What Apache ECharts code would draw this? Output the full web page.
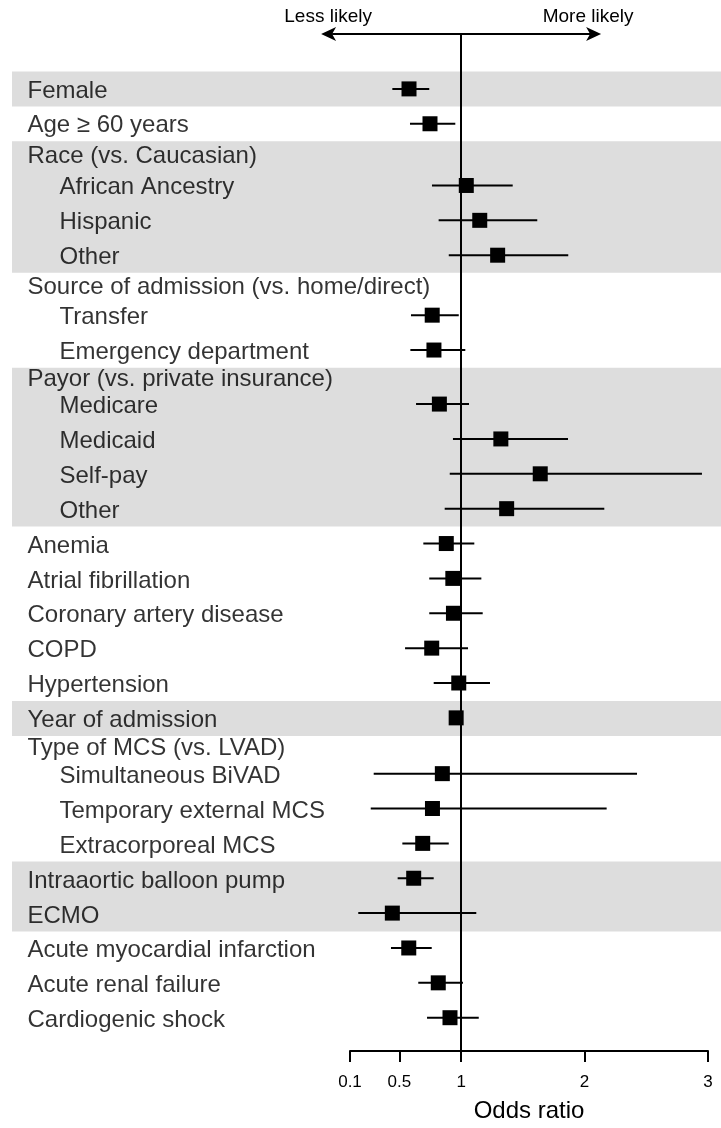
<!DOCTYPE html>
<html><head><meta charset="utf-8">
<script src="https://cdn.jsdelivr.net/npm/echarts@6/dist/echarts.min.js"></script>
<style>html,body{margin:0;padding:0;background:#fff}#c{width:721px;height:1128px}</style>
</head><body><div id="c"></div>
<script>
// ---------- data ----------
const rowLabels = ['Female','Age \u2265 60 years','Race (vs. Caucasian)','African Ancestry','Hispanic','Other',
  'Source of admission (vs. home/direct)','Transfer','Emergency department','Payor (vs. private insurance)',
  'Medicare','Medicaid','Self-pay','Other','Anemia','Atrial fibrillation','Coronary artery disease','COPD',
  'Hypertension','Year of admission','Type of MCS (vs. LVAD)','Simultaneous BiVAD','Temporary external MCS',
  'Extracorporeal MCS','Intraaortic balloon pump','ECMO','Acute myocardial infarction','Acute renal failure',
  'Cardiogenic shock'];
const rowIndent = [0,0,0,1,1,1,0,1,1,0,1,1,1,1,0,0,0,0,0,0,0,1,1,1,0,0,0,0,0];
const rowShaded = [1,0,1,1,1,1,0,0,0,1,1,1,1,1,0,0,0,0,0,1,0,0,0,0,1,1,0,0,0];
const oddsRatio = [0.578,0.748,null,1.042,1.151,1.296,null,0.766,0.780,null,0.824,1.322,1.641,1.369,
  0.880,0.933,0.938,0.762,0.981,0.960,null,0.848,0.768,0.689,0.616,0.443,0.576,0.815,0.910];
const ciLower = [0.443,0.586,null,0.764,0.818,0.900,null,0.594,0.589,null,0.635,0.934,0.908,0.867,
  0.694,0.742,0.742,0.546,0.778,0.950,null,0.292,0.268,0.524,0.486,0.167,0.432,0.653,0.724];
const ciUpper = [0.742,0.953,null,1.418,1.617,1.868,null,0.981,1.034,null,1.064,1.866,2.951,2.160,
  1.107,1.164,1.175,1.056,1.234,0.970,null,2.425,2.179,0.900,0.778,1.123,0.762,1.015,1.143];
const xTicks = [0.1, 0.5, 1, 2, 3];
const xTitle = 'Odds ratio';
const arrowLabels = ['Less likely', 'More likely'];

// ---------- layout ----------
const FONT = "'Liberation Sans', Arial, Helvetica, sans-serif";
const headerUnits = [0.77, 0.72, 0.55, 0.6];
const yMin = -1.0745, yMax = 28.095;

const rowMid = [], rowStart = [], rowEnd = [];
let acc = 0, hk = 0;
rowLabels.forEach((l, i) => {
  const u = oddsRatio[i] == null ? headerUnits[hk++] : 1;
  rowStart.push(acc); rowMid.push(acc + u / 2); acc += u; rowEnd.push(acc);
});
const bands = [];
rowShaded.forEach((s, i) => {
  if (!s) return;
  if (i > 0 && rowShaded[i - 1] && bands.length) bands[bands.length - 1][1] = rowEnd[i];
  else bands.push([rowStart[i], rowEnd[i]]);
});
const pointData = [], barData = [];
oddsRatio.forEach((v, i) => {
  if (v == null) return;
  pointData.push([v, rowMid[i]]);
  barData.push([ciLower[i], ciUpper[i], rowMid[i]]);
});

const chart = echarts.init(document.getElementById('c'), null, {renderer: 'canvas'});
const option = {
  animation: false,
  backgroundColor: '#fff',
  textStyle: {fontFamily: FONT},
  grid: [
    {left: 350, right: 13, top: 34, bottom: 76},
    {left: 12, right: 0, top: 34, bottom: 76}
  ],
  xAxis: [
    {gridIndex: 0, type: 'value', min: 0.1, max: 3,
     splitLine: {show: false},
     axisLine: {onZero: false, lineStyle: {color: '#000', width: 2}},
     axisTick: {show: true, length: 11, customValues: xTicks, lineStyle: {color: '#000', width: 2}},
     axisLabel: {customValues: xTicks, fontSize: 17, color: '#000', margin: 23, fontFamily: FONT},
     name: xTitle, nameLocation: 'middle', nameGap: 48,
     nameTextStyle: {fontSize: 24, color: '#000', fontFamily: FONT}},
    {gridIndex: 1, type: 'value', min: 0, max: 1, show: false}
  ],
  yAxis: [
    {gridIndex: 0, type: 'value', inverse: true, min: yMin, max: yMax, show: false},
    {gridIndex: 1, type: 'value', inverse: true, min: yMin, max: yMax, show: false}
  ],
  series: [
    {type: 'custom', xAxisIndex: 1, yAxisIndex: 1, z: 1, silent: true, clip: false,
     data: bands,
     renderItem: function (params, api) {
       const p0 = api.coord([0, api.value(0)]);
       const p1 = api.coord([1, api.value(1)]);
       return {type: 'rect', shape: {x: p0[0], y: p0[1], width: p1[0] - p0[0], height: p1[1] - p0[1]},
               style: {fill: '#dddddd'}};
     }},
    {type: 'scatter', xAxisIndex: 1, yAxisIndex: 1, z: 5, silent: true,
     symbolSize: 1, itemStyle: {color: 'rgba(0,0,0,0)'},
     data: rowLabels.map((l, i) => ({name: l, value: [0, rowMid[i]],
       label: {offset: [rowIndent[i] ? 47 : 15, 2]}})),
     label: {show: true, position: 'right', distance: 0, formatter: '{b}',
             fontSize: 24, color: '#000', fontFamily: FONT}},
    {type: 'custom', xAxisIndex: 0, yAxisIndex: 0, z: 6, silent: true, clip: false,
     data: barData,
     renderItem: function (params, api) {
       const a = api.coord([api.value(0), api.value(2)]);
       const b = api.coord([api.value(1), api.value(2)]);
       return {type: 'line', shape: {x1: a[0], y1: a[1], x2: b[0], y2: b[1]},
               style: {stroke: '#000', lineWidth: 2}};
     },
     markLine: {silent: true, symbol: ['none', 'none'], label: {show: false},
       lineStyle: {color: '#000', width: 2, type: 'solid'},
       data: [{xAxis: 1}]}},
    {type: 'scatter', xAxisIndex: 0, yAxisIndex: 0, z: 7, silent: true,
     symbol: 'rect', symbolSize: 15, itemStyle: {color: '#000', opacity: 1},
     data: pointData}
  ]
};
chart.setOption(option);

const cx = chart.convertToPixel({xAxisIndex: 0}, 1);
const yTop = chart.convertToPixel({yAxisIndex: 0}, yMin);
const half = 140, headLen = 15, headW = 7, notch = 11;
chart.setOption({graphic: [
  {type: 'line', z: 10, shape: {x1: cx - half + notch, y1: yTop, x2: cx + half - notch, y2: yTop},
   style: {stroke: '#000', lineWidth: 2}},
  {type: 'polygon', z: 10, shape: {points: [[cx - half, yTop], [cx - half + headLen, yTop - headW],
     [cx - half + notch, yTop], [cx - half + headLen, yTop + headW]]}, style: {fill: '#000'}},
  {type: 'polygon', z: 10, shape: {points: [[cx + half, yTop], [cx + half - headLen, yTop - headW],
     [cx + half - notch, yTop], [cx + half - headLen, yTop + headW]]}, style: {fill: '#000'}},
  {type: 'text', z: 10, x: cx - 133, y: yTop - 17,
   style: {text: arrowLabels[0], fontSize: 19, fill: '#000', fontFamily: FONT, align: 'center', verticalAlign: 'middle'}},
  {type: 'text', z: 10, x: cx + 127, y: yTop - 17,
   style: {text: arrowLabels[1], fontSize: 19, fill: '#000', fontFamily: FONT, align: 'center', verticalAlign: 'middle'}}
]});
</script>
</body></html>
